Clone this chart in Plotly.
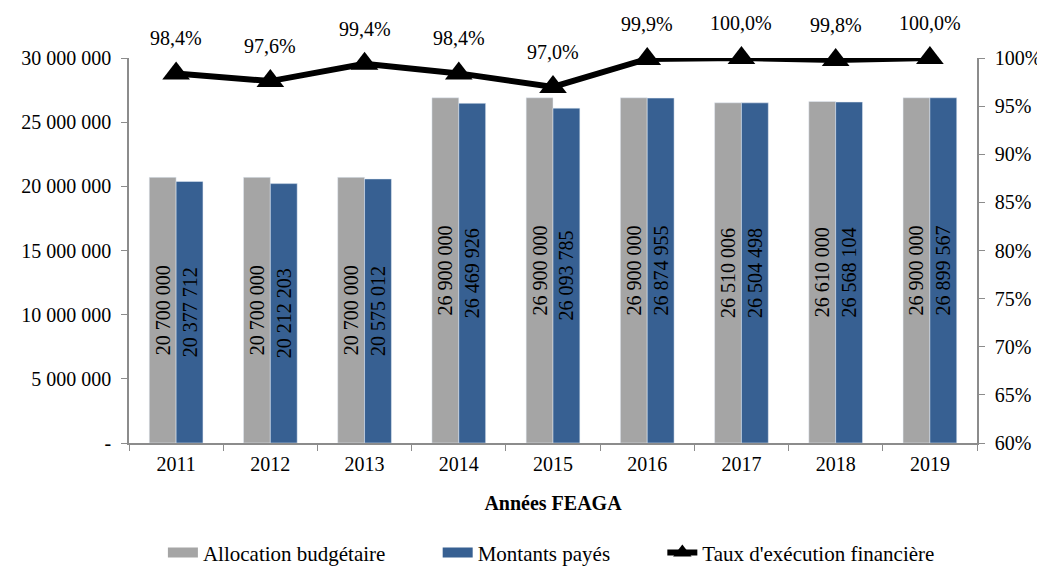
import plotly.graph_objects as go

years = ["2011", "2012", "2013", "2014", "2015", "2016", "2017", "2018", "2019"]
allocation = [20700000, 20700000, 20700000, 26900000, 26900000, 26900000, 26510006, 26610000, 26900000]
paid = [20377712, 20212203, 20575012, 26469926, 26093785, 26874955, 26504498, 26568104, 26899567]
rate = [0.984, 0.976, 0.994, 0.984, 0.970, 0.999, 1.000, 0.998, 1.000]
rate_labels = ["98,4%", "97,6%", "99,4%", "98,4%", "97,0%", "99,9%", "100,0%", "99,8%", "100,0%"]

left_ticks = [0, 5000000, 10000000, 15000000, 20000000, 25000000, 30000000]
left_ticktext = ["-", "5 000 000", "10 000 000", "15 000 000", "20 000 000", "25 000 000", "30 000 000"]
right_ticks = [0.60, 0.65, 0.70, 0.75, 0.80, 0.85, 0.90, 0.95, 1.00]


def fmt(v):
    return f"{v:,}".replace(",", " ")


FONT = "Liberation Serif, Times New Roman, serif"
AXIS_GREY = "#8c8c8c"
GREY = "#a5a5a5"
BLUE = "#376092"
PAD = "\u00a0" * 9  # extra room between legend entries

fig = go.Figure()

fig.add_trace(go.Bar(
    x=years, y=allocation, name="Allocation budgétaire", showlegend=False,
    marker=dict(color=GREY),
    text=[fmt(v) for v in allocation], textposition="inside",
    insidetextanchor="middle", textangle=-90,
    textfont=dict(color="black", size=20, family=FONT),
))
fig.add_trace(go.Bar(
    x=years, y=paid, name="Montants payés", showlegend=False,
    marker=dict(color=BLUE),
    text=[fmt(v) for v in paid], textposition="inside",
    insidetextanchor="middle", textangle=-90,
    textfont=dict(color="black", size=20, family=FONT),
))

# wide rectangular swatches for the legend, like the original
fig.add_trace(go.Scatter(x=[None], y=[None], mode="lines", name="Allocation budgétaire" + PAD,
                         line=dict(color=GREY, width=13)))
fig.add_trace(go.Scatter(x=[None], y=[None], mode="lines", name="Montants payés" + PAD,
                         line=dict(color=BLUE, width=13)))

fig.add_trace(go.Scatter(
    x=years, y=rate, name="Taux d'exécution financière", yaxis="y2",
    mode="lines+markers",
    line=dict(color="black", width=6),
    marker=dict(symbol="triangle-up", size=24, color="black"),
    cliponaxis=False,
))

# on a category axis, annotations use the category index
for i, (r, lab) in enumerate(zip(rate, rate_labels)):
    fig.add_annotation(x=i, y=r, yref="y2", text=lab, showarrow=False,
                       yshift=35, font=dict(size=20, family=FONT, color="black"))

# margins compensate for the 8px body margin of the html page
fig.update_layout(
    width=1045, height=567,
    margin=dict(l=121, r=76, t=50, b=132),
    paper_bgcolor="white", plot_bgcolor="white",
    font=dict(family=FONT, size=20, color="black"),
    barmode="group", bargap=0.43, bargroupgap=0,
    uniformtext=dict(minsize=20, mode="show"),
    xaxis=dict(
        type="category", automargin=False, range=[-0.5, len(years) - 0.5],
        title=dict(text="<b>Années FEAGA</b>", font=dict(size=20), standoff=22),
        showline=True, linecolor=AXIS_GREY, linewidth=1.5,
        ticks="outside", tickson="boundaries", ticklen=6, tickcolor=AXIS_GREY,
        ticklabelstandoff=2, showgrid=False,
    ),
    yaxis=dict(
        range=[0, 30000000], tickvals=left_ticks, ticktext=left_ticktext,
        automargin=False, ticklabelstandoff=6,
        showline=True, linecolor=AXIS_GREY, linewidth=1.5,
        ticks="outside", ticklen=6, tickcolor=AXIS_GREY,
        showgrid=False, zeroline=False,
    ),
    yaxis2=dict(
        overlaying="y", side="right", range=[0.6, 1.0],
        tickvals=right_ticks, tickformat=".0%", automargin=False,
        ticklabelstandoff=6,
        showline=True, linecolor=AXIS_GREY, linewidth=1.5,
        ticks="outside", ticklen=6, tickcolor=AXIS_GREY,
        showgrid=False, zeroline=False,
    ),
    legend=dict(orientation="h", xref="container", yref="container",
                x=0.52, xanchor="center", y=0.039, yanchor="middle",
                font=dict(size=21), itemwidth=30, traceorder="normal"),
    showlegend=True,
)

fig.write_html("out.html")
